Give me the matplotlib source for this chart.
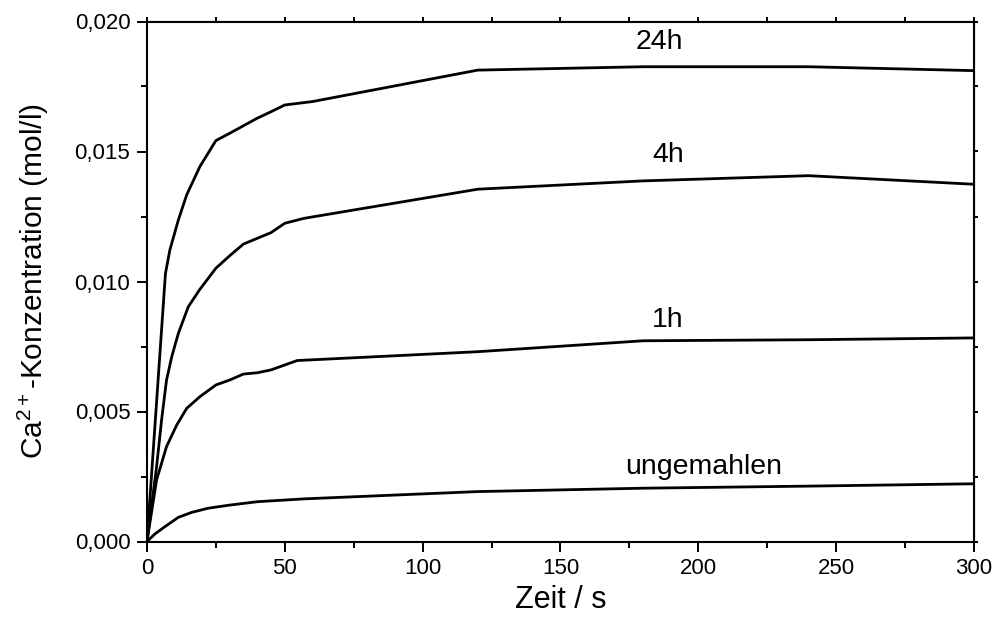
import matplotlib as mpl
mpl.use('Agg')

import matplotlib.pyplot as plt
import matplotlib.ticker as mticker

plt.rcParams['font.family'] = ['Liberation Sans', 'DejaVu Sans']
plt.rcParams['mathtext.fontset'] = 'custom'
plt.rcParams['mathtext.rm'] = 'Liberation Sans'
plt.rcParams['mathtext.it'] = 'Liberation Sans:italic'

# Zeit in s, Ca2+-Konzentration in mol/l
t_24h = [0, 6.7, 8.3, 11.4, 14.4, 19.2, 25, 30, 35, 40, 45, 50, 60, 120, 180, 240, 300]
c_24h = [0, 0.01030, 0.01121, 0.01237, 0.01333, 0.01442, 0.01542, 0.01570, 0.01599,
         0.01628, 0.01653, 0.01679, 0.01692, 0.01813, 0.01826, 0.01826, 0.01811]

t_4h = [0, 3.5, 5.3, 7.1, 9, 11.4, 15, 19.2, 25, 30, 35, 40, 45, 50, 57, 120, 180, 240, 300]
c_4h = [0, 0.00288, 0.00467, 0.00621, 0.00711, 0.00801, 0.00903, 0.00970, 0.01051, 0.01099,
        0.01144, 0.01166, 0.01188, 0.01224, 0.01243, 0.01355, 0.01387, 0.01407, 0.01374]

t_1h = [0, 3.5, 7.1, 10.8, 14.4, 19.2, 25, 30, 35, 40, 45, 50, 54.5, 120, 180, 240, 300]
c_1h = [0, 0.00237, 0.00365, 0.00448, 0.00512, 0.00557, 0.00602, 0.00621, 0.00644,
        0.00649, 0.00660, 0.00679, 0.00696, 0.00730, 0.00772, 0.00776, 0.00783]

t_ung = [0, 3, 6.5, 11.4, 16.2, 22.2, 30, 40, 57, 120, 180, 240, 300]
c_ung = [0, 0.00030, 0.00057, 0.00093, 0.00112, 0.00128, 0.00140, 0.00153, 0.00164,
         0.00192, 0.00205, 0.00213, 0.00222]

names = ["24h", "4h", "1h", "ungemahlen"]
# where the curve names sit (t, c)
label_t = [186, 189, 189, 202]
label_c = [0.0192, 0.01487, 0.00852, 0.00287]

fig = plt.figure(figsize=(9.95, 6.25), dpi=100)
ax = fig.add_axes([0.1477, 0.1336, 0.8312, 0.9656 - 0.1336])

for t, c in [(t_24h, c_24h), (t_4h, c_4h), (t_1h, c_1h), (t_ung, c_ung)]:
    ax.plot(t, c, color='black', lw=2.0, solid_joinstyle='round')

for name, lt, lc in zip(names, label_t, label_c):
    ax.text(lt, lc, name, fontsize=20.5, ha='center', va='center')

ax.set_xlim(0, 300)
ax.set_ylim(0, 0.020)

ax.xaxis.set_major_locator(mticker.MultipleLocator(50))
ax.xaxis.set_minor_locator(mticker.MultipleLocator(25))
ax.yaxis.set_major_locator(mticker.MultipleLocator(0.005))
ax.yaxis.set_minor_locator(mticker.MultipleLocator(0.0025))
ax.yaxis.set_major_formatter(mticker.FuncFormatter(lambda v, p: ("%.3f" % v).replace('.', ',')))

ax.tick_params(which='major', direction='out', length=7, width=1.4, labelsize=16, pad=5)
ax.tick_params(which='minor', direction='out', length=4, width=1.4)

for sp in ax.spines.values():
    sp.set_linewidth(1.5)

# small ticks on top and right
top = ax.secondary_xaxis('top')
top.xaxis.set_major_locator(mticker.MultipleLocator(25))
top.tick_params(direction='out', length=3, width=1.4, labeltop=False)
right = ax.secondary_yaxis('right')
right.yaxis.set_major_locator(mticker.MultipleLocator(0.0025))
right.tick_params(direction='out', length=3, width=1.4, labelright=False)

xl = ax.set_xlabel("Zeit / s", fontsize=22)
xl.set_va('center')
ax.xaxis.set_label_coords(0.5006, -0.1125)
yl = ax.set_ylabel(r"Ca$^{2+}$-Konzentration (mol/l)", fontsize=21.5)
yl.set_va('center')
ax.yaxis.set_label_coords(-0.137, 0.5)

plt.savefig("out.png", dpi=100)
